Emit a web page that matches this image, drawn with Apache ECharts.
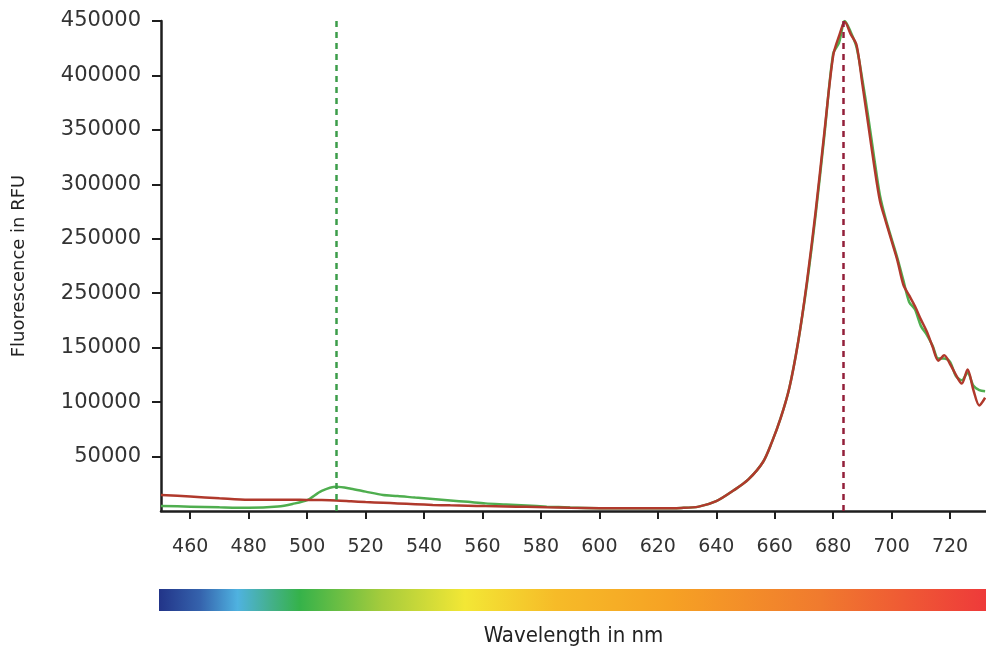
<!DOCTYPE html>
<html>
<head>
<meta charset="utf-8">
<script src="https://cdn.jsdelivr.net/npm/echarts@6/dist/echarts.min.js"></script>
<style>
  html, body { margin: 0; padding: 0; background: #fff; }
  #chart { width: 986px; height: 652px; }
</style>
</head>
<body>
<div id="chart"></div>
<script>
// wavelength samples (nm)
const wavelengths = [450, 460, 470, 480, 490, 495, 500, 505, 510, 515, 520, 526, 531, 537, 543, 549, 555, 561, 568, 575, 582, 590, 600, 610, 620, 628, 634, 640, 646, 651, 656, 659, 662, 665, 668, 671, 674, 677, 680, 682, 684, 686, 688, 690, 692, 694, 696, 698, 700, 702, 704, 706, 708, 710, 712, 714, 716, 718, 720, 722, 724, 726, 728, 730, 732]

// fluorescence in RFU
const greenValues = [4600, 4000, 3400, 3000, 4200, 6500, 10000, 18500, 22300, 20500, 17800, 14700, 13800, 12300, 11000, 9700, 8400, 7000, 6000, 5000, 4000, 3200, 2600, 2500, 2500, 2800, 4000, 9000, 19000, 29000, 45000, 63000, 85000, 113000, 155000, 208000, 272000, 345000, 420000, 430000, 450000, 440000, 426000, 396000, 362000, 325000, 290000, 268000, 250000, 232000, 212000, 192000, 185000, 170000, 162000, 152000, 140000, 140000, 137000, 124000, 120000, 127000, 115000, 111000, 110000]
const redValues = [14700, 13300, 11700, 10300, 10400, 10300, 10200, 10000, 9600, 8900, 8200, 7600, 7000, 6300, 5600, 5200, 4900, 4500, 4200, 3800, 3400, 3000, 2600, 2500, 2500, 2800, 4000, 9000, 19000, 29000, 45000, 63000, 85000, 113000, 155000, 210000, 275000, 348000, 418000, 436000, 449000, 438000, 428000, 392000, 355000, 318000, 285000, 266000, 248000, 230000, 208000, 198000, 188000, 176000, 165000, 151000, 138000, 143000, 135000, 125000, 117000, 130000, 111000, 97000, 104000]

// peak markers (nm)
const greenPeak = 510
const redPeak = 683.5

// axis ticks
const xTickValues = [460, 480, 500, 520, 540, 560, 580, 600, 620, 640, 660, 680, 700, 720]
const yTickValues = [50000, 100000, 150000, 200000, 250000, 300000, 350000, 400000, 450000]
const yTickLabels = ['50000', '100000', '150000', '250000', '250000', '300000', '350000', '400000', '450000']

const chart = echarts.init(document.getElementById('chart'))

const axisColor = '#1e1e1e'
const labelFont = 'DejaVu Sans'

const option = {
  animation: false,
  grid: { left: 161, right: 0, top: 21, bottom: 141, outerBoundsMode: 'none' },
  xAxis: {
    type: 'value',
    min: 450,
    max: 732.3,
    name: 'Wavelength in nm',
    nameLocation: 'middle',
    nameGap: 114,
    nameTextStyle: { fontFamily: 'DejaVu Sans Condensed', fontSize: 22, color: '#222' },
    axisLine: { show: true, onZero: false, lineStyle: { color: axisColor, width: 2.5 } },
    axisTick: { show: true, customValues: xTickValues, length: 8, lineStyle: { color: axisColor, width: 2 } },
    axisLabel: { customValues: xTickValues, fontFamily: labelFont, fontSize: 19, color: '#333', margin: 27 },
    splitLine: { show: false },
  },
  yAxis: {
    type: 'value',
    min: 0,
    max: 450000,
    name: 'Fluorescence in RFU',
    nameLocation: 'middle',
    nameGap: 133,
    nameRotate: 90,
    nameTextStyle: { fontFamily: labelFont, fontSize: 18, color: '#222' },
    axisLine: { show: true, lineStyle: { color: axisColor, width: 2.5 } },
    axisTick: { show: true, customValues: yTickValues, length: 9, lineStyle: { color: axisColor, width: 2 } },
    axisLabel: {
      customValues: yTickValues,
      fontFamily: labelFont,
      fontSize: 21,
      color: '#333',
      margin: 20,
      formatter: (v) => yTickLabels[yTickValues.indexOf(v)],
    },
    splitLine: { show: false },
  },
  graphic: [
    {
      type: 'rect',
      left: 159,
      top: 589,
      shape: { width: 827, height: 22 },
      style: {
        fill: new echarts.graphic.LinearGradient(0, 0, 1, 0, [
          { offset: 0, color: '#223488' },
          { offset: 0.05, color: '#3563ad' },
          { offset: 0.095, color: '#4fb2e0' },
          { offset: 0.135, color: '#44b08c' },
          { offset: 0.17, color: '#35b24a' },
          { offset: 0.27, color: '#a6cc3c' },
          { offset: 0.37, color: '#f3e735' },
          { offset: 0.48, color: '#f6bb28' },
          { offset: 0.62, color: '#f6a124' },
          { offset: 0.8, color: '#f07a2e' },
          { offset: 1, color: '#ee3a3a' },
        ]),
      },
    },
  ],
  series: [
    {
      name: 'green',
      type: 'line',
      data: wavelengths.map((w, i) => [w, greenValues[i]]),
      symbol: 'none',
      smooth: 0.3,
      lineStyle: { color: '#4fae4f', width: 2.5 },
      markLine: {
        silent: true,
        symbol: ['none', 'none'],
        label: { show: false },
        lineStyle: { color: '#3c9d4a', width: 2.5, type: [6, 5] },
        data: [{ xAxis: greenPeak }],
      },
      z: 2,
    },
    {
      name: 'red',
      type: 'line',
      data: wavelengths.map((w, i) => [w, redValues[i]]),
      symbol: 'none',
      smooth: 0.3,
      lineStyle: { color: '#b0392c', width: 2.5 },
      markLine: {
        silent: true,
        symbol: ['none', 'none'],
        label: { show: false },
        lineStyle: { color: '#931f3a', width: 2.5, type: [6, 5] },
        data: [{ xAxis: redPeak }],
      },
      z: 3,
    },
  ],
}

chart.setOption(option)
</script>
</body>
</html>
